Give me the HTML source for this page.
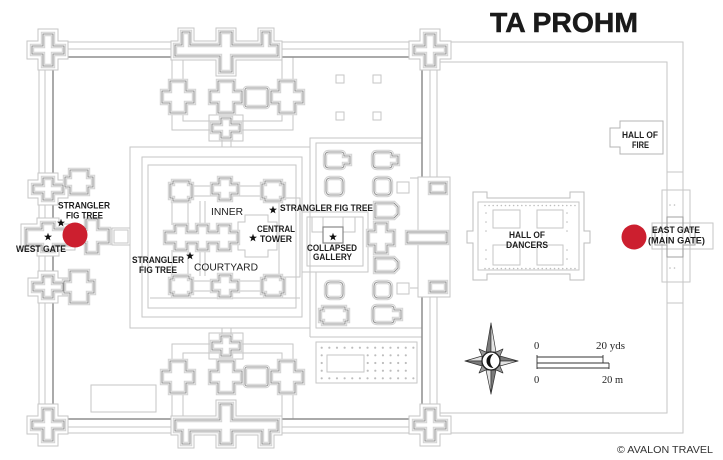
<!DOCTYPE html>
<html><head><meta charset="utf-8"><style>
html,body{margin:0;padding:0;background:#fff;overflow:hidden}
svg{display:block}
.lb{font-family:"Liberation Sans",Arial,sans-serif;font-weight:bold;font-size:9.5px;fill:#1e1e1e}
.rg{font-family:"Liberation Sans",Arial,sans-serif;font-size:10px;fill:#222}
.sf{font-family:"Liberation Serif","DejaVu Serif",serif;font-size:10.5px;fill:#222}
</style></head><body>
<svg xmlns="http://www.w3.org/2000/svg" width="723" height="460" viewBox="0 0 723 460">
<defs>
<g id="dbl">
<polygon points="43,34 53,34 53,46 64,46 64,54 53,54 53,66 43,66 43,54 32,54 32,46 43,46"/>
<polygon points="425,34 435,34 435,46 446,46 446,54 435,54 435,66 425,66 425,54 414,54 414,46 425,46"/>
<polygon points="43,409 53,409 53,421 64,421 64,429 53,429 53,441 43,441 43,429 32,429 32,421 43,421"/>
<polygon points="425,409 435,409 435,421 446,421 446,429 435,429 435,441 425,441 425,429 414,429 414,421 425,421"/>
<polygon points="43,178 53,178 53,185 63,185 63,193 53,193 53,200 43,200 43,193 33,193 33,185 43,185"/>
<polygon points="43,276 53,276 53,283 63,283 63,291 53,291 53,298 43,298 43,291 33,291 33,283 43,283"/>
<polygon points="42,223 54,223 54,229 70,229 70,245 54,245 54,251 42,251 42,245 26,245 26,229 42,229"/>
<rect x="430" y="183" width="16" height="10"/>
<rect x="430" y="282" width="16" height="10"/>
<rect x="407" y="232" width="40" height="11"/>
<polygon points="175,45 182,45 182,32 190,32 190,45 220,45 220,32 232,32 232,45 262,45 262,32 270,32 270,45 278,45 278,56 232,56 232,72 220,72 220,56 175,56"/>
<polygon points="175,431 182,431 182,444 190,444 190,431 220,431 220,444 232,444 232,431 262,431 262,444 270,444 270,431 278,431 278,420 232,420 232,404 220,404 220,420 175,420"/>
<polygon points="170,81 186,81 186,91 194,91 194,103 186,103 186,113 170,113 170,103 162,103 162,91 170,91"/>
<polygon points="218,81 234,81 234,91 242,91 242,103 234,103 234,113 218,113 218,103 210,103 210,91 218,91"/>
<polygon points="279,81 295,81 295,91 303,91 303,103 295,103 295,113 279,113 279,103 271,103 271,91 279,91"/>
<rect x="245" y="88" width="23" height="19" rx="2"/>
<polygon points="221,118 231,118 231,124 240,124 240,132 231,132 231,138 221,138 221,132 212,132 212,124 221,124"/>
<polygon points="170,361 186,361 186,371 194,371 194,383 186,383 186,393 170,393 170,383 162,383 162,371 170,371"/>
<polygon points="218,361 234,361 234,371 242,371 242,383 234,383 234,393 218,393 218,383 210,383 210,371 218,371"/>
<polygon points="279,361 295,361 295,371 303,371 303,383 295,383 295,393 279,393 279,383 271,383 271,371 279,371"/>
<rect x="245" y="367" width="23" height="19" rx="2"/>
<polygon points="221,336 231,336 231,342 240,342 240,350 231,350 231,356 221,356 221,350 212,350 212,342 221,342"/>
<polygon points="70,170 88,170 88,177 93,177 93,187 88,187 88,194 70,194 70,187 65,187 65,177 70,177"/>
<polygon points="70,271 88,271 88,281 94,281 94,293 88,293 88,303 70,303 70,293 64,293 64,281 70,281"/>
<polygon points="86,219 98,219 98,229 109,229 109,243 98,243 98,253 86,253 86,243 75,243 75,229 86,229"/>
<path d="M329,152 H341 Q344,152 344,155 V156 H350 V164 H344 V165 Q344,168 341,168 H329 Q325,168 325,164 V156 Q325,152 329,152 Z"/>
<path d="M377,152 H389 Q392,152 392,155 V156 H398 V164 H392 V165 Q392,168 389,168 H377 Q373,168 373,164 V156 Q373,152 377,152 Z"/>
<rect x="326" y="178" width="17" height="17" rx="4"/>
<rect x="374" y="178" width="17" height="17" rx="4"/>
<path d="M375,203 H394 L398,207 V214 L394,218 H375 Z"/>
<polygon points="375,223 387,223 387,231 394,231 394,245 387,245 387,253 375,253 375,245 368,245 368,231 375,231"/>
<path d="M375,258 H394 L398,262 V268 L394,272 H375 Z"/>
<rect x="326" y="282" width="17" height="16" rx="4"/>
<rect x="374" y="282" width="17" height="16" rx="4"/>
<path d="M320,310 H323 V307 H345 V310 H348 V321 H345 V324 H323 V321 H320 Z"/>
<path d="M377,306 H391 Q394,306 394,309 V310 H401 V319 H394 V320 Q394,323 391,323 H377 Q373,323 373,319 V310 Q373,306 377,306 Z"/>
<polygon points="173,181 189,181 189,184 192,184 192,198 189,198 189,201 173,201 173,198 170,198 170,184 173,184"/>
<polygon points="265,181 281,181 281,184 284,184 284,198 281,198 281,201 265,201 265,198 262,198 262,184 265,184"/>
<polygon points="173,276 189,276 189,279 192,279 192,293 189,293 189,296 173,296 173,293 170,293 170,279 173,279"/>
<polygon points="265,276 281,276 281,279 284,279 284,293 281,293 281,296 265,296 265,293 262,293 262,279 265,279"/>
<polygon points="219,178 231,178 231,184 238,184 238,194 231,194 231,200 219,200 219,194 212,194 212,184 219,184"/>
<polygon points="219,275 231,275 231,281 238,281 238,291 231,291 231,297 219,297 219,291 212,291 212,281 219,281"/>
<polygon points="165,232 175,232 175,225 187,225 187,232 197,232 197,225 208,225 208,232 218,232 218,225 230,225 230,232 238,232 238,243 230,243 230,250 218,250 218,243 208,243 208,250 197,250 197,243 187,243 187,250 175,250 175,243 165,243"/>
</g>
<g id="halo">
<polygon points="38,29 58,29 58,41 68,41 68,59 58,59 58,70 38,70 38,59 27,59 27,41 38,41"/>
<polygon points="420,29 440,29 440,41 451,41 451,59 440,59 440,70 420,70 420,59 409,59 409,41 420,41"/>
<polygon points="38,404 58,404 58,416 68,416 68,434 58,434 58,446 38,446 38,434 27,434 27,416 38,416"/>
<polygon points="420,404 440,404 440,416 451,416 451,434 440,434 440,446 420,446 420,434 409,434 409,416 420,416"/>
<polygon points="38,173 58,173 58,180 68,180 68,198 58,198 58,205 38,205 38,198 28,198 28,180 38,180"/>
<polygon points="38,271 58,271 58,278 68,278 68,296 58,296 58,303 38,303 38,296 28,296 28,278 38,278"/>
<polygon points="37,218 59,218 59,224 75,224 75,250 59,250 59,256 37,256 37,250 21,250 21,224 37,224"/>
<polygon points="171,41 178,41 178,28 194,28 194,41 216,41 216,28 236,28 236,41 258,41 258,28 274,28 274,41 282,41 282,60 236,60 236,76 216,76 216,60 171,60"/>
<polygon points="171,435 178,435 178,448 194,448 194,435 216,435 216,448 236,448 236,435 258,435 258,448 274,448 274,435 282,435 282,416 236,416 236,400 216,400 216,416 171,416"/>
<rect x="418" y="177" width="32" height="120"/>
</g>
<path id="star" d="M0,-4.2 L1,-1.38 L3.99,-1.3 L1.62,0.53 L2.47,3.4 L0,1.7 L-2.47,3.4 L-1.62,0.53 L-3.99,-1.3 L-1,-1.38 Z"/>
</defs>

<g fill="none" stroke="#c6c6c6" stroke-width="1">
<rect x="39" y="42" width="398" height="391"/>
<rect x="45" y="49" width="385" height="378"/>
<path d="M437,42 H683 V433 H437 M437,62 H667 V413 H437"/>
<path d="M172,57 V130 H293 V57 M183,57 V121 H282 V57 M222,140 V147 M231,140 V147"/>
<rect x="209" y="115" width="34" height="26"/>
<path d="M172,419 V344 H293 V419 M183,419 V353 H282 V419 M222,328 V334 M231,328 V334"/>
<rect x="209" y="333" width="34" height="26"/>
<rect x="336" y="75" width="8" height="8"/><rect x="373" y="75" width="8" height="8"/>
<rect x="336" y="112" width="8" height="8"/><rect x="373" y="112" width="8" height="8"/>
<rect x="112" y="228" width="18" height="17"/><rect x="114" y="230" width="14" height="13"/>
<path d="M98,229 H112 M98,244 H112"/>
<rect x="91" y="385" width="65" height="27"/>
<rect x="130" y="147" width="180" height="181"/>
<rect x="142" y="157" width="160" height="160"/>
<rect x="148" y="165" width="148" height="143"/>
<path d="M192,186 H262 M192,196 H262 M192,281 H262 M192,291 H262 M188,201 V276 M200,201 V276 M205,201 V276 M172,201 V225 M172,250 V276 M150,298 H300"/>
<rect x="279" y="198" width="21" height="79"/>
<polygon points="238,222 245,222 245,215 268,215 268,222 277,222 277,250 268,250 268,257 245,257 245,250 238,250"/>
<path d="M310,337 V138 H422 M316,212 V143 H422 M310,337 H422 M316,272 V328 H422 M410,178 H422 M410,288 H422"/>
<rect x="302" y="212" width="66" height="60"/>
<rect x="307" y="217" width="56" height="49"/>
<rect x="312" y="217" width="11" height="15"/><rect x="343" y="217" width="12" height="15"/>
<rect x="397" y="182" width="12" height="11"/><rect x="397" y="283" width="12" height="11"/>
<rect x="316" y="342" width="101" height="41"/>
<rect x="327" y="355" width="37" height="17"/>
<path d="M667,172 H683 M667,303 H683"/>
<rect x="662" y="190" width="28" height="92"/>
<rect x="652" y="223" width="61" height="26"/>
<path d="M620,121 H663 V154 H620 V147 H610 V128 H620 Z" stroke="#b4b4b4"/>
<path d="M473,192 H487 V198 H570 V192 H584 V231 H590 V243 H584 V280 H570 V274 H487 V280 H473 V243 H467 V231 H473 Z" stroke="#bdbdbd"/>
<rect x="478" y="202" width="101" height="68"/>
<rect x="493" y="210" width="27" height="18"/><rect x="537" y="210" width="26" height="18"/>
<rect x="493" y="245" width="27" height="20"/><rect x="537" y="245" width="26" height="20"/>
</g>
<g fill="none" stroke="#bdbdbd" stroke-width="2.2" stroke-linecap="round">
<path d="M321.7,347.7 H413.4 M321.7,378.3 H413.4" stroke-dasharray="0 7.64"/>
<path d="M367.7,355.3 H413.4 M367.7,363 H413.4 M367.7,370.7 H413.4" stroke-dasharray="0 7.62"/>
<path d="M321.7,355.3 V370.7" stroke-dasharray="0 7.7"/>
<path d="M485,205.5 H575 M485,268.5 H575" stroke-dasharray="0 4.09" stroke-width="1.6"/>
<path d="M486,213 H490.5 M486,222 H490.5 M486,231 H490.5 M486,250 H490.5 M486,259 H490.5 M567,213 H571.5 M567,222 H571.5 M567,231 H571.5 M567,250 H571.5 M567,259 H571.5 M670,205 H678 M670,268 H678" stroke-dasharray="0 4.5" stroke-width="1.6"/>
</g>
<rect x="53" y="57" width="369" height="362" fill="none" stroke="#8e8e8e" stroke-width="1.5"/>
<use href="#halo" fill="#fff" stroke="#c6c6c6" stroke-width="1"/>
<use href="#dbl" fill="#fff" stroke="#d4d4d4" stroke-width="4.4"/>
<use href="#dbl" fill="none" stroke="#fff" stroke-width="2.2"/>
<use href="#dbl" fill="none" stroke="#929292" stroke-width="1.1"/>
<rect x="323" y="227" width="20" height="16" fill="none" stroke="#888" stroke-width="1.2"/>
<polygon points="667,217 683,217 683,229 695,229 695,245 683,245 683,257 667,257 667,245 655,245 655,229 667,229" fill="none" stroke="#a0a0a0" stroke-width="1.1"/>

<circle cx="75" cy="235" r="12.5" fill="#cc1f2f"/>
<circle cx="634" cy="237" r="12.5" fill="#cc1f2f"/>

<g fill="#111">
<use href="#star" transform="translate(61,223)"/>
<use href="#star" transform="translate(48,237)"/>
<use href="#star" transform="translate(190,256)"/>
<use href="#star" transform="translate(253,238)"/>
<use href="#star" transform="translate(273,210)"/>
<use href="#star" transform="translate(333,237)"/>
</g>

<text class="lb" x="58" y="208.5" textLength="52" lengthAdjust="spacingAndGlyphs">STRANGLER</text>
<text class="lb" x="66" y="218.5" textLength="37" lengthAdjust="spacingAndGlyphs">FIG TREE</text>
<text class="lb" x="16" y="252" textLength="50" lengthAdjust="spacingAndGlyphs">WEST GATE</text>
<text class="lb" x="132" y="263" textLength="52" lengthAdjust="spacingAndGlyphs">STRANGLER</text>
<text class="lb" x="139" y="273" textLength="38" lengthAdjust="spacingAndGlyphs">FIG TREE</text>
<text class="rg" x="211" y="215" textLength="32" lengthAdjust="spacingAndGlyphs">INNER</text>
<text class="rg" x="194" y="270.5" textLength="64" lengthAdjust="spacingAndGlyphs">COURTYARD</text>
<text class="lb" x="257" y="232" textLength="38" lengthAdjust="spacingAndGlyphs">CENTRAL</text>
<text class="lb" x="260" y="242" textLength="32" lengthAdjust="spacingAndGlyphs">TOWER</text>
<text class="lb" x="280" y="211" textLength="93" lengthAdjust="spacingAndGlyphs">STRANGLER FIG TREE</text>
<text class="lb" x="307" y="251" textLength="50" lengthAdjust="spacingAndGlyphs">COLLAPSED</text>
<text class="lb" x="313" y="260" textLength="39" lengthAdjust="spacingAndGlyphs">GALLERY</text>
<text class="lb" x="622" y="138" textLength="36" lengthAdjust="spacingAndGlyphs">HALL OF</text>
<text class="lb" x="632" y="148" textLength="17" lengthAdjust="spacingAndGlyphs">FIRE</text>
<text class="lb" x="509" y="238" textLength="36" lengthAdjust="spacingAndGlyphs">HALL OF</text>
<text class="lb" x="506" y="248" textLength="42" lengthAdjust="spacingAndGlyphs">DANCERS</text>
<text class="lb" x="652" y="233" textLength="48" lengthAdjust="spacingAndGlyphs">EAST GATE</text>
<text class="lb" x="648" y="243.5" textLength="57" lengthAdjust="spacingAndGlyphs">(MAIN GATE)</text>

<text x="490" y="32" font-family="'Liberation Sans',Arial,sans-serif" font-weight="bold" font-size="28" fill="#1a1a1a" stroke="#1a1a1a" stroke-width="0.5" textLength="148" lengthAdjust="spacingAndGlyphs">TA PROHM</text>

<g stroke="#333" stroke-width="0.7" stroke-linejoin="round">
<polygon points="491,323 491,352 486,352" fill="#7a7a7a"/>
<polygon points="491,323 496,352 491,352" fill="#e4e4e4"/>
<polygon points="491,394 491,370 486,370" fill="#e4e4e4"/>
<polygon points="491,394 496,370 491,370" fill="#7a7a7a"/>
<polygon points="465,361 482,361 482,356" fill="#e4e4e4"/>
<polygon points="465,361 482,361 482,366" fill="#7a7a7a"/>
<polygon points="518,361 500,361 500,356" fill="#7a7a7a"/>
<polygon points="518,361 500,361 500,366" fill="#e4e4e4"/>
<polygon points="503,349 494,353 499,358" fill="#999"/>
<polygon points="479,349 483,358 488,353" fill="#999"/>
<polygon points="503,373 499,364 494,369" fill="#999"/>
<polygon points="479,373 488,369 483,364" fill="#999"/>
<circle cx="491" cy="361" r="9" fill="#fff" stroke="#222" stroke-width="1.3"/>
<path d="M493.5,354 A7,7 0 0,0 493.5,368 A9,9 0 0,1 493.5,354 Z" fill="#111" stroke="none"/>
</g>

<g fill="none" stroke="#333" stroke-width="0.9">
<path d="M537,355 V369 M537,357 H603 M603,355 V363 M537,363 H609 M537,368 H609 M609,363 V369"/>
</g>
<text class="sf" x="534" y="349">0</text>
<text class="sf" x="596" y="349" textLength="29" lengthAdjust="spacingAndGlyphs">20 yds</text>
<text class="sf" x="534" y="383">0</text>
<text class="sf" x="602" y="383" textLength="21" lengthAdjust="spacingAndGlyphs">20 m</text>

<text x="617" y="453" font-family="'Liberation Sans',Arial,sans-serif" font-size="10.5" fill="#333" textLength="96" lengthAdjust="spacingAndGlyphs">© AVALON TRAVEL</text>
</svg>
</body></html>
